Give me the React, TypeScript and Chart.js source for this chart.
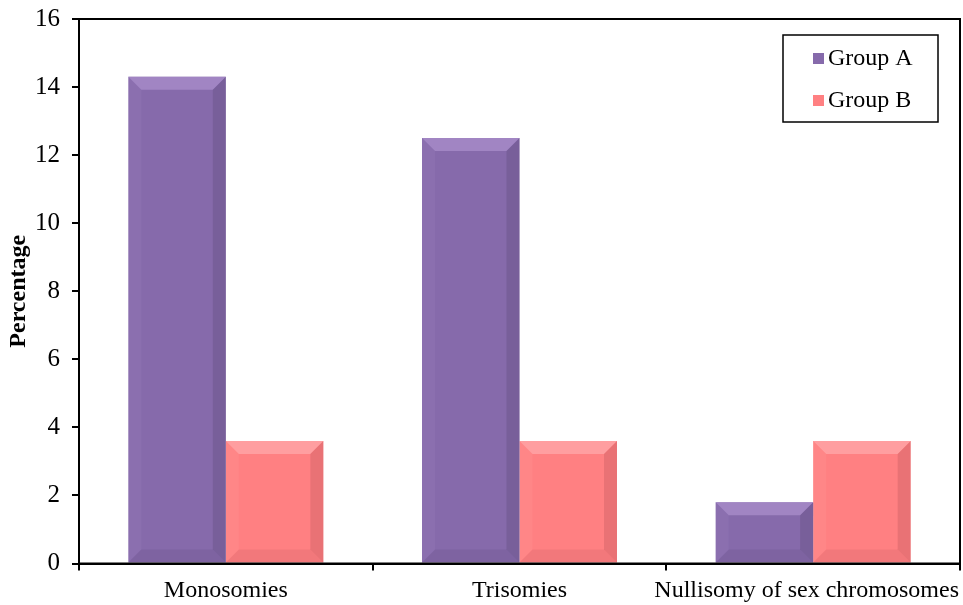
import React, { useEffect, useRef } from "react";
import { Chart, registerables } from "chart.js";

Chart.register(...registerables);

const categories = ["Monosomies", "Trisomies", "Nullisomy of sex chromosomes"];
const groupA = [14.3, 12.5, 1.8];
const groupB = [3.6, 3.6, 3.6];
const seriesNames = ["Group A", "Group B"];
const yTicks = [0, 2, 4, 6, 8, 10, 12, 14, 16];

const FONT = "'Liberation Serif', 'Times New Roman', serif";
const colorA = "#866AAB";
const colorB = "#FF8082";
const lightA = "#A98FCB";
const darkA = "#5E4A7C";
const lightB = "#FFA8AA";
const darkB = "#C05A5E";

const framePlugin = {
  id: "frame",
  afterDraw(chart: any) {
    const { ctx, chartArea } = chart;
    ctx.save();
    ctx.strokeStyle = "#000";
    ctx.lineWidth = 2;
    ctx.strokeRect(chartArea.left, chartArea.top, chartArea.right - chartArea.left, chartArea.bottom - chartArea.top);
    ctx.restore();
  },
};

// keep the last category label inside the canvas, as in the reference
const fitLabelPlugin = {
  id: "fitLabel",
  beforeDraw(chart: any) {
    const xs = chart.scales.x;
    if (!xs || !xs.getLabelItems) return;
    const items = xs.getLabelItems();
    const last = items[items.length - 1];
    if (!last) return;
    const ctx = chart.ctx;
    ctx.save();
    ctx.font = `24px ${FONT}`;
    const w = ctx.measureText(String(last.label)).width;
    ctx.restore();
    const maxRight = chart.width - 4;
    const right = last.options.translation[0] + w / 2;
    if (right > maxRight && !last._shifted) {
      last.options.translation[0] -= right - maxRight;
      last._shifted = true;
    }
  },
};

const bevelPlugin = {
  id: "bevel",
  afterDatasetsDraw(chart: any) {
    const { ctx } = chart;
    chart.data.datasets.forEach((ds: any, di: number) => {
      const meta = chart.getDatasetMeta(di);
      const light = di === 0 ? lightA : lightB;
      const dark = di === 0 ? darkA : darkB;
      meta.data.forEach((bar: any) => {
        const { x, y, base, width } = bar.getProps(["x", "y", "base", "width"], true);
        const l = x - width / 2;
        const r = x + width / 2;
        const t = y;
        const b = base;
        const d = Math.min(13, (b - t) / 2);
        ctx.save();
        ctx.fillStyle = light;
        ctx.globalAlpha = 0.75;
        ctx.beginPath();
        ctx.moveTo(l, t);
        ctx.lineTo(r, t);
        ctx.lineTo(r - d, t + d);
        ctx.lineTo(l + d, t + d);
        ctx.closePath();
        ctx.fill();
        ctx.fillStyle = dark;
        ctx.globalAlpha = 0.35;
        ctx.beginPath();
        ctx.moveTo(r, t);
        ctx.lineTo(r, b);
        ctx.lineTo(r - d, b - d);
        ctx.lineTo(r - d, t + d);
        ctx.closePath();
        ctx.fill();
        ctx.globalAlpha = 0.2;
        ctx.beginPath();
        ctx.moveTo(l, b);
        ctx.lineTo(r, b);
        ctx.lineTo(r - d, b - d);
        ctx.lineTo(l + d, b - d);
        ctx.closePath();
        ctx.fill();
        ctx.fillStyle = light;
        ctx.globalAlpha = 0.15;
        ctx.beginPath();
        ctx.moveTo(l, t);
        ctx.lineTo(l, b);
        ctx.lineTo(l + d, b - d);
        ctx.lineTo(l + d, t + d);
        ctx.closePath();
        ctx.fill();
        ctx.restore();
      });
    });
  },
};

const legendPlugin = {
  id: "boxLegend",
  afterDraw(chart: any) {
    const { ctx } = chart;
    const bx = 783, by = 35, bw = 155, bh = 87;
    ctx.save();
    ctx.fillStyle = "#fff";
    ctx.fillRect(bx, by, bw, bh);
    ctx.strokeStyle = "#000";
    ctx.lineWidth = 1.5;
    ctx.strokeRect(bx, by, bw, bh);
    ctx.font = `24px ${FONT}`;
    ctx.textBaseline = "middle";
    const cols = [colorA, colorB];
    seriesNames.forEach((name, i) => {
      const cy = by + 23 + i * 42;
      ctx.fillStyle = cols[i];
      ctx.fillRect(813, cy - 5, 11, 11);
      ctx.fillStyle = "#000";
      ctx.fillText(name, 828, cy + 1);
    });
    ctx.restore();
  },
};

export default function App() {
  const ref = useRef<HTMLCanvasElement>(null);
  useEffect(() => {
    if (!ref.current) return;
    const chart = new Chart(ref.current, {
      type: "bar",
      data: {
        labels: categories,
        datasets: [
          { label: seriesNames[0], data: groupA, backgroundColor: colorA, borderWidth: 0, categoryPercentage: 0.664, barPercentage: 1 },
          { label: seriesNames[1], data: groupB, backgroundColor: colorB, borderWidth: 0, categoryPercentage: 0.664, barPercentage: 1 },
        ],
      },
      options: {
        animation: false,
        responsive: true,
        maintainAspectRatio: false,
        layout: { padding: { top: 19, right: 3, left: 0, bottom: 0 } },
        plugins: { legend: { display: false }, tooltip: { enabled: false } },
        scales: {
          x: {
            grid: { display: true, drawOnChartArea: false, offset: true, color: "#000", lineWidth: 2, tickLength: 7 },
            border: { display: true, color: "#000", width: 2 },
            ticks: { color: "#000", font: { family: FONT, size: 24 }, padding: 6, maxRotation: 0, autoSkip: false },
            afterFit(scale: any) {
              scale.height = 41.5;
              scale.paddingLeft = 0;
              scale.paddingRight = 0;
            },
          },
          y: {
            min: 0,
            max: 16,
            afterBuildTicks(scale: any) { scale.ticks = yTicks.map((v) => ({ value: v })); },
            grid: { display: true, drawOnChartArea: false, color: "#000", lineWidth: 2, tickLength: 7 },
            border: { display: true, color: "#000", width: 2 },
            ticks: { color: "#000", font: { family: FONT, size: 25 }, padding: 12 },
            title: { display: true, text: "Percentage", color: "#000", font: { family: FONT, size: 24, weight: "bold" }, padding: { top: 4, bottom: 0 } },
            afterFit(scale: any) {
              scale.width = 79;
              scale.paddingTop = 0;
              scale.paddingBottom = 0;
            },
          },
        },
      },
      plugins: [fitLabelPlugin, bevelPlugin, framePlugin, legendPlugin],
    });
    return () => chart.destroy();
  }, []);
  return (
    <div style={{ position: "fixed", left: 0, top: 0, width: 963, height: 605, background: "#fff" }}>
      <canvas ref={ref} />
    </div>
  );
}
